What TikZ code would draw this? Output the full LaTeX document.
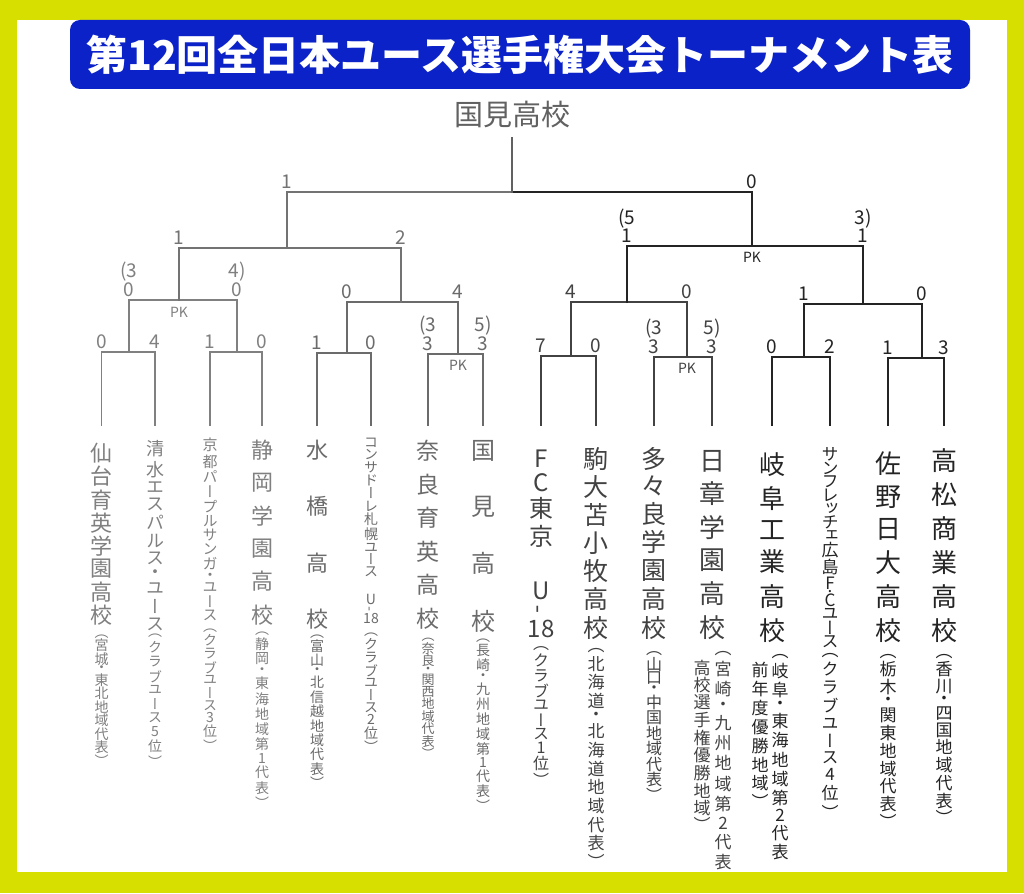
\documentclass[tikz,border=0pt]{standalone}
\usepackage{fontspec}
\usepackage{graphicx}
\setmainfont{Noto Sans CJK JP}
\newfontfamily\tatefont[RawFeature=+vert]{Noto Sans CJK JP}
\XeTeXuseglyphmetrics=1
\usetikzlibrary{positioning}

\definecolor{bandlime}{HTML}{D7DF00}
\definecolor{titleblue}{HTML}{0B22C8}

% vertical setting: one glyph per line, spread to a given height
\def\tateend{tateend}
\def\tateloop#1{\ifx\tateend#1\else\hbox to 1em{\hss#1\hss}\vfil\expandafter\tateloop\fi}
\newcommand\tate[3]{\vbox to #2pt{\tatefont\fontsize{#1}{#1}\selectfont\offinterlineskip\tateloop#3\tateend\unskip}}
\newcommand\tatesp[1]{\vrule width 0pt height #1}
\newcommand\tatebar{\rotatebox{90}{-}}

% junction up to the next bar
\newcommand\feed[3][lose]{\draw[win] (#2) -- (#2 |- #3); \draw[#1] (#2 |- #3) -- (#3);}

\begin{document}
\begin{tikzpicture}[x=1pt, y=-1pt,
    lose/.style={line width=1.2pt, line cap=rect},
    win/.style={line width=2.6pt, line cap=rect},
    score/.style={font=\fontsize{19}{19}\selectfont, inner sep=1pt, anchor=south, yshift=2pt},
    shoot/.style={font=\fontsize{19}{19}\selectfont, inner sep=1pt},
    pk/.style={font=\fontsize{14}{14}\selectfont, inner sep=1pt},
    team/.style={anchor=north, inner sep=0pt},
    region/.style={anchor=north, inner sep=0pt},
    headline/.style={text=white, font=\bfseries\fontsize{41}{41}\selectfont, inner sep=0pt},
    champ/.style={font=\fontsize{29}{29}\selectfont, inner sep=0pt}]
  \useasboundingbox (0,0) rectangle (1024,893);
  \fill[bandlime] (0,0) rectangle (1024,893);
  \fill[white] (17,20) rectangle (1007,872);
  \fill[titleblue, rounded corners=10pt] (70,20) rectangle (970,89);
  \node[headline] (title) at (520,55) {第12回全日本ユース選手権大会トーナメント表};

  \coordinate (base) at (0,425);
  \coordinate (m1) at (129,352);
  \coordinate (m2) at (237,352);
  \coordinate (m3) at (347,353);
  \coordinate (m4) at (458,354);
  \coordinate (m5) at (571,356);
  \coordinate (m6) at (687,357);
  \coordinate (m7) at (804,357);
  \coordinate (m8) at (922,358);
  \coordinate (q1) at (179,300);
  \coordinate (q2) at (401,302);
  \coordinate (q3) at (627,302);
  \coordinate (q4) at (863,304);
  \coordinate (s1) at (287,248);
  \coordinate (s2) at (752,246);
  \coordinate (f) at (512,192);

  % first quarter
  \begin{scope}[black!50]
    \node[team] (t1) at (101.5,443) {\tate{22}{180}{仙台育英学園高校}};
    \node[region, below=9pt of t1] (d1) {\tate{14}{132}{（宮城・東北地域代表）}};
    \node[team] (t2) at (155,440) {\tate{18}{190}{清水エスパルス・ユース}};
    \node[region, below=3pt of t2] (d2) {\tate{14}{134}{（クラブユース5位）}};
    \node[team] (t3) at (210,438) {\tate{15}{182}{京都パープルサンガ・ユース}};
    \node[region, below=8pt of t3] (d3) {\tate{14}{123}{（クラブユース3位）}};
    \node[team] (t4) at (262,440) {\tate{22}{183}{静岡学園高校}};
    \node[region, below=6pt of t4] (d4) {\tate{14}{177}{（静岡・東海地域第1代表）}};

    \draw[lose] (t1.north |- base) |- (m1);
    \draw[win] (t2.north |- base) |- (m1);
    \draw[win] (t3.north |- base) |- (m2);
    \draw[lose] (t4.north |- base) |- (m2);
    \feed{m1}{q1}
    \feed[win]{m2}{q1}

    \node[score] (c1) at (t1.north |- m1) {0};
    \node[score] (c2) at (t2.north |- m1) {4};
    \node[score] (c3) at (t3.north |- m2) {1};
    \node[score] (c4) at (t4.north |- m2) {0};
    \node[score] (c17) at (m1 |- q1) {0};
    \node[shoot, above=-1pt of c17] (p17) {(3};
    \node[score] (c18) at (m2 |- q1) {0};
    \node[shoot, above=-1pt of c18] (p18) {4)};
    \node[pk, below=6pt of q1] (k1) {PK};
  \end{scope}

  % second quarter
  \begin{scope}[black!58]
    \node[team] (t5) at (317,440) {\tate{22}{187}{水橋高校}};
    \node[region, below=5pt of t5] (d5) {\tate{14}{154}{（富山・北信越地域代表）}};
    \node[team] (t6) at (371,438) {\tate{14}{185}{コンサドーレ札幌ユース{\tatesp{13pt}}U{\tatebar}{18}}};
    \node[region, below=9pt of t6] (d6) {\tate{14}{120}{（クラブユース2位）}};
    \node[team] (t7) at (428,440) {\tate{23}{187}{奈良育英高校}};
    \node[region, below=9pt of t7] (d7) {\tate{13}{120}{（奈良・関西地域代表）}};
    \node[team] (t8) at (483,440) {\tate{24}{190}{国見高校}};
    \node[region, below=6pt of t8] (d8) {\tate{14}{173}{（長崎・九州地域第1代表）}};

    \draw[win] (t5.north |- base) |- (m3);
    \draw[lose] (t6.north |- base) |- (m3);
    \draw[lose] (t7.north |- base) |- (m4);
    \draw[win] (t8.north |- base) |- (m4);
    \feed{m3}{q2}
    \feed[win]{m4}{q2}

    \node[score] (c5) at (t5.north |- m3) {1};
    \node[score] (c6) at (t6.north |- m3) {0};
    \node[score] (c7) at (t7.north |- m4) {3};
    \node[shoot, above=-1pt of c7] (p7) {(3};
    \node[score] (c8) at (t8.north |- m4) {3};
    \node[shoot, above=-1pt of c8] (p8) {5)};
    \node[pk, below=5pt of m4] (k2) {PK};
    \node[score] (c19) at (m3 |- q2) {0};
    \node[score] (c20) at (m4 |- q2) {4};
  \end{scope}

  % left semi-final
  \begin{scope}[black!55]
    \feed{q1}{s1}
    \feed[win]{q2}{s1}
    \feed[win]{s1}{f}
    \node[score] (c25) at (q1 |- s1) {1};
    \node[score] (c26) at (q2 |- s1) {2};
    \node[score] (c29) at (s1 |- f) {1};
  \end{scope}

  % third quarter
  \begin{scope}[black!74]
    \node[team] (t9) at (541,450) {\tate{24}{187}{FC東京{\tatesp{22pt}}U{\tatebar}{18}}};
    \node[region, below=9pt of t9] (d9) {\tate{16}{140}{（クラブユース1位）}};
    \node[team] (t10) at (596,447) {\tate{25}{190}{駒大苫小牧高校}};
    \node[region, below=9pt of t10] (d10) {\tate{17}{220}{（北海道・北海道地域代表）}};
    \node[team] (t11) at (654,447) {\tate{25}{190}{多々良学園高校}};
    \node[region, below=12pt of t11] (d11) {\tate{16}{150}{（山口・中国地域代表）}};
    \node[team] (t12) at (712,450) {\tate{26}{187}{日章学園高校}};
    \node[region, below=12pt of t12, xshift=11pt] (d12) {\tate{17}{217}{（宮崎・九州地域第2代表}};
    \node[region, below=20pt of t12, xshift=-10pt] (e12) {\tate{17}{172}{高校選手権優勝地域）}};

    \draw[win] (t9.north |- base) |- (m5);
    \draw[lose] (t10.north |- base) |- (m5);
    \draw[lose] (t11.north |- base) |- (m6);
    \draw[win] (t12.north |- base) |- (m6);
    \feed[win]{m5}{q3}
    \feed{m6}{q3}

    \node[score] (c9) at (t9.north |- m5) {7};
    \node[score] (c10) at (t10.north |- m5) {0};
    \node[score] (c11) at (t11.north |- m6) {3};
    \node[shoot, above=-1pt of c11] (p11) {(3};
    \node[score] (c12) at (t12.north |- m6) {3};
    \node[shoot, above=-1pt of c12] (p12) {5)};
    \node[pk, below=5pt of m6] (k3) {PK};
    \node[score] (c21) at (m5 |- q3) {4};
    \node[score] (c22) at (m6 |- q3) {0};
  \end{scope}

  % fourth quarter
  \begin{scope}[black!86]
    \node[team] (t13) at (772,452) {\tate{26}{188}{岐阜工業高校}};
    \node[region, below=12pt of t13, xshift=8pt] (d13) {\tate{17}{204}{（岐阜・東海地域第2代表}};
    \node[region, below=19pt of t13, xshift=-12pt] (e13) {\tate{17}{147}{前年度優勝地域）}};
    \node[team] (t14) at (830,447) {\tate{17}{200}{サンフレッチェ広島F.Cユース}};
    \node[region, below=5pt of t14] (d14) {\tate{17}{167}{（クラブユース4位）}};
    \node[team] (t15) at (888,452) {\tate{26}{188}{佐野日大高校}};
    \node[region, below=12pt of t15] (d15) {\tate{17}{174}{（栃木・関東地域代表）}};
    \node[team] (t16) at (944,448) {\tate{26}{192}{高松商業高校}};
    \node[region, below=12pt of t16] (d16) {\tate{17}{170}{（香川・四国地域代表）}};

    \draw[lose] (t13.north |- base) |- (m7);
    \draw[win] (t14.north |- base) |- (m7);
    \draw[lose] (t15.north |- base) |- (m8);
    \draw[win] (t16.north |- base) |- (m8);
    \feed[win]{m7}{q4}
    \feed{m8}{q4}

    \node[score] (c13) at (t13.north |- m7) {0};
    \node[score] (c14) at (t14.north |- m7) {2};
    \node[score] (c15) at (t15.north |- m8) {1};
    \node[score] (c16) at (t16.north |- m8) {3};
    \node[score] (c23) at (m7 |- q4) {1};
    \node[score] (c24) at (m8 |- q4) {0};
  \end{scope}

  % right semi-final
  \begin{scope}[black!86]
    \feed[win]{q3}{s2}
    \feed{q4}{s2}
    \feed{s2}{f}
    \node[score] (c27) at (q3 |- s2) {1};
    \node[shoot, above=-1pt of c27] (p27) {(5};
    \node[score] (c28) at (q4 |- s2) {1};
    \node[shoot, above=-1pt of c28] (p28) {3)};
    \node[pk, below=5pt of s2] (k4) {PK};
    \node[score] (c30) at (s2 |- f) {0};
  \end{scope}

  % champion
  \node[champ, black!62] (champ) at (512,115) {国見高校};
  \draw[win, black!62, shorten >=10pt] (f) -- (champ);
\end{tikzpicture}
\end{document}
